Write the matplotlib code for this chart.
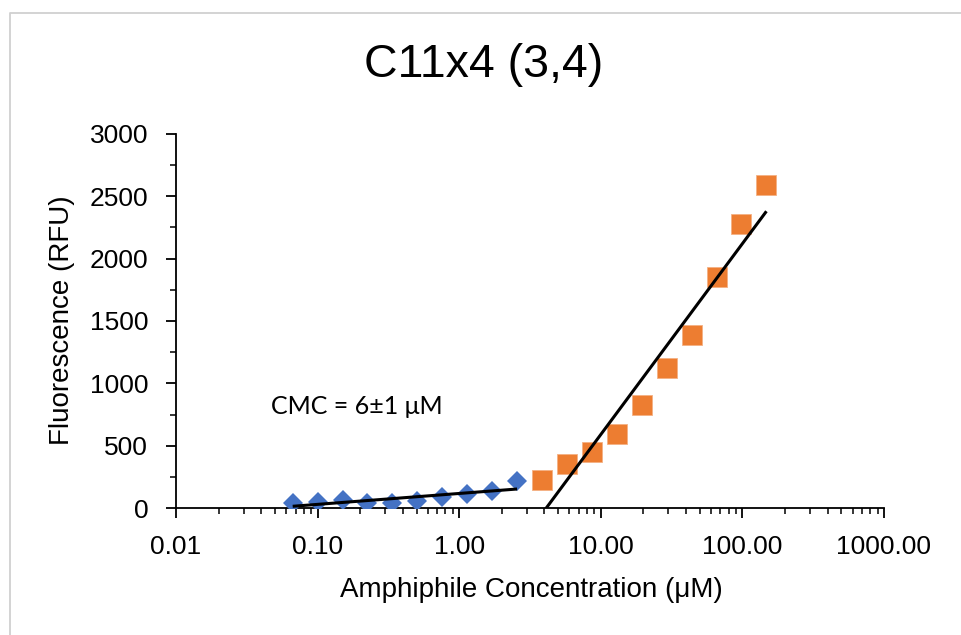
import numpy as np
import matplotlib
matplotlib.use("Agg")
import matplotlib.pyplot as plt
from matplotlib.ticker import LogLocator, FixedLocator, MultipleLocator, FuncFormatter
from matplotlib.lines import Line2D

# Data
conc_low = [0.0667, 0.1, 0.15, 0.225, 0.3375, 0.506, 0.759, 1.139, 1.709, 2.563]
fluor_low = [43, 50, 65, 40, 45, 60, 88, 112, 135, 215]
conc_high = [3.84, 5.77, 8.65, 12.97, 19.46, 29.2, 43.8, 65.7, 98.5, 147.8]
fluor_high = [227, 352, 448, 595, 827, 1121, 1388, 1854, 2276, 2588]
x_ticks = [0.01, 0.1, 1, 10, 100, 1000]
y_ticks = [0, 500, 1000, 1500, 2000, 2500, 3000]
title = "C11x4 (3,4)"
annotation = "CMC = 6±1 μM"

W, H = 961, 635
fig = plt.figure(figsize=(W / 100, H / 100), dpi=100)
fig.patch.set_facecolor("white")
# chart-area border (only top and left edges visible in the reference)
fig.lines.append(Line2D([10 / W, 10 / W, 1.2], [-0.2, 1 - 13 / H, 1 - 13 / H],
                        transform=fig.transFigure, color="#D0D0D0", linewidth=1.3))

ax = fig.add_axes([176 / W, (H - 508.3) / H, (884 - 176) / W, (508.3 - 133.7) / H])

blue = "#4472C4"
orange = "#ED7D31"

ax.plot(conc_low, fluor_low, linestyle="none", marker="D", markersize=10.5,
        color=blue, markeredgewidth=0, zorder=3)
ax.plot(conc_high, fluor_high, linestyle="none", marker="s", markersize=14,
        color=orange, markeredgecolor="#F4B183", markeredgewidth=0.6, zorder=3)

# logarithmic trendlines fitted to each series
for cx, fy in ((conc_low, fluor_low), (conc_high, fluor_high)):
    lx = np.log10(cx)
    m, b = np.polyfit(lx, fy, 1)
    xs = np.logspace(lx.min(), lx.max(), 200)
    ax.plot(xs, m * np.log10(xs) + b, color="black", linewidth=2.2, zorder=4,
            solid_capstyle="butt")

ax.set_xscale("log")
ax.set_xlim(0.01, 1000)
ax.set_ylim(0, 3000)
ax.xaxis.set_major_locator(FixedLocator(x_ticks))
ax.xaxis.set_minor_locator(LogLocator(base=10, subs=np.arange(2, 10), numticks=50))
ax.xaxis.set_major_formatter(FuncFormatter(lambda v, p: f"{v:.2f}"))
ax.xaxis.set_minor_formatter(FuncFormatter(lambda v, p: ""))
ax.yaxis.set_major_locator(FixedLocator(y_ticks))
ax.yaxis.set_minor_locator(MultipleLocator(250))

for s in ("top", "right"):
    ax.spines[s].set_visible(False)
for s in ("left", "bottom"):
    ax.spines[s].set_linewidth(1.3)
    ax.spines[s].set_color("black")

tick_font = "Liberation Sans"
fs = 19
ax.tick_params(axis="both", which="major", direction="out", length=7, width=1.3,
               labelsize=fs, colors="black")
ax.tick_params(axis="both", which="minor", direction="out", length=4.5, width=1.1)
ax.tick_params(axis="x", which="major", pad=12)
ax.tick_params(axis="y", which="major", pad=13)
for lab in ax.get_xticklabels() + ax.get_yticklabels():
    lab.set_fontfamily(tick_font)

ax.set_xlabel("Amphiphile Concentration (μM)", fontsize=20, family=tick_font)
ax.set_ylabel("Fluorescence (RFU)", fontsize=20, family=tick_font)
ax.xaxis.set_label_coords((531 - 176) / (884 - 176), -(590 - 508.3) / (508.3 - 133.7))
ax.yaxis.set_label_coords(-(176 - 62) / (884 - 176), (508.3 - 320) / (508.3 - 133.7))
ax.xaxis.label.set_va("center")
ax.yaxis.label.set_va("center")

fig.text(484 / W, 1 - 65 / H, title, fontsize=33.5, family=tick_font,
         ha="center", va="center")
ax.text(271 / W, 1 - 407 / H, annotation, transform=fig.transFigure, fontsize=18,
        family=["Lato", "DejaVu Sans"], ha="left", va="center")

fig.savefig("out.png", dpi=100, facecolor="white")
